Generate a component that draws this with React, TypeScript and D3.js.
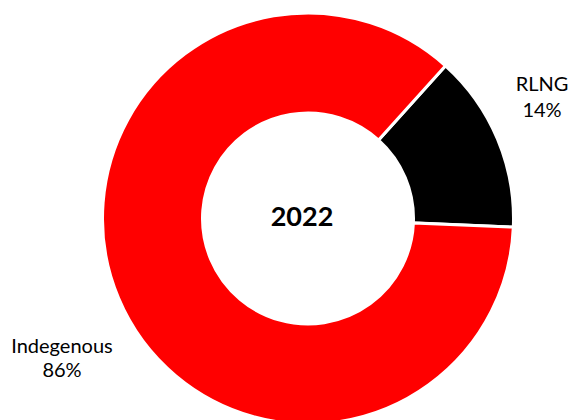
import React from "react";
import * as d3 from "d3";

const categories = ["RLNG", "Indegenous"];
const values = [14, 86];
const percentLabels = ["14%", "86%"];
const colors = ["#000000", "#ff0000"];
const centerTitle = "2022";

const W = 569;
const H = 420;
const cx = 308;
const cy = 218.5;
const outerR = 205.5;
const innerR = 105.5;
const startAngleDeg = 42;

export default function App() {
  const pie = d3
    .pie<number>()
    .sort(null)
    .value((d) => d)
    .startAngle((startAngleDeg * Math.PI) / 180)
    .endAngle((startAngleDeg * Math.PI) / 180 + 2 * Math.PI);
  const arcs = pie(values);
  const arc = d3.arc<d3.PieArcDatum<number>>().innerRadius(innerR).outerRadius(outerR);

  const labelPos = [
    { x: 542, y1: 91, y2: 117 },
    { x: 62, y1: 353, y2: 377 },
  ];

  return (
    <svg
      width={W}
      height={H}
      style={{ position: "absolute", left: 0, top: 0, background: "#fff" }}
    >
      <g transform={`translate(${cx},${cy})`}>
        {arcs.map((a, i) => (
          <path
            key={categories[i]}
            d={arc(a) || ""}
            fill={colors[i]}
            stroke="#ffffff"
            strokeWidth={3}
            strokeLinejoin="miter"
          />
        ))}
      </g>
      <text
        x={302}
        y={226}
        textAnchor="middle"
        fontFamily="Lato, 'Open Sans', sans-serif"
        fontWeight="bold"
        fontSize={27}
        fill="#000"
      >
        {centerTitle}
      </text>
      {categories.map((c, i) => (
        <g key={c} fontFamily="Lato, 'Open Sans', sans-serif" fontSize={20} fill="#000" textAnchor="middle">
          <text x={labelPos[i].x} y={labelPos[i].y1}>{c}</text>
          <text x={labelPos[i].x} y={labelPos[i].y2}>{percentLabels[i]}</text>
        </g>
      ))}
    </svg>
  );
}
